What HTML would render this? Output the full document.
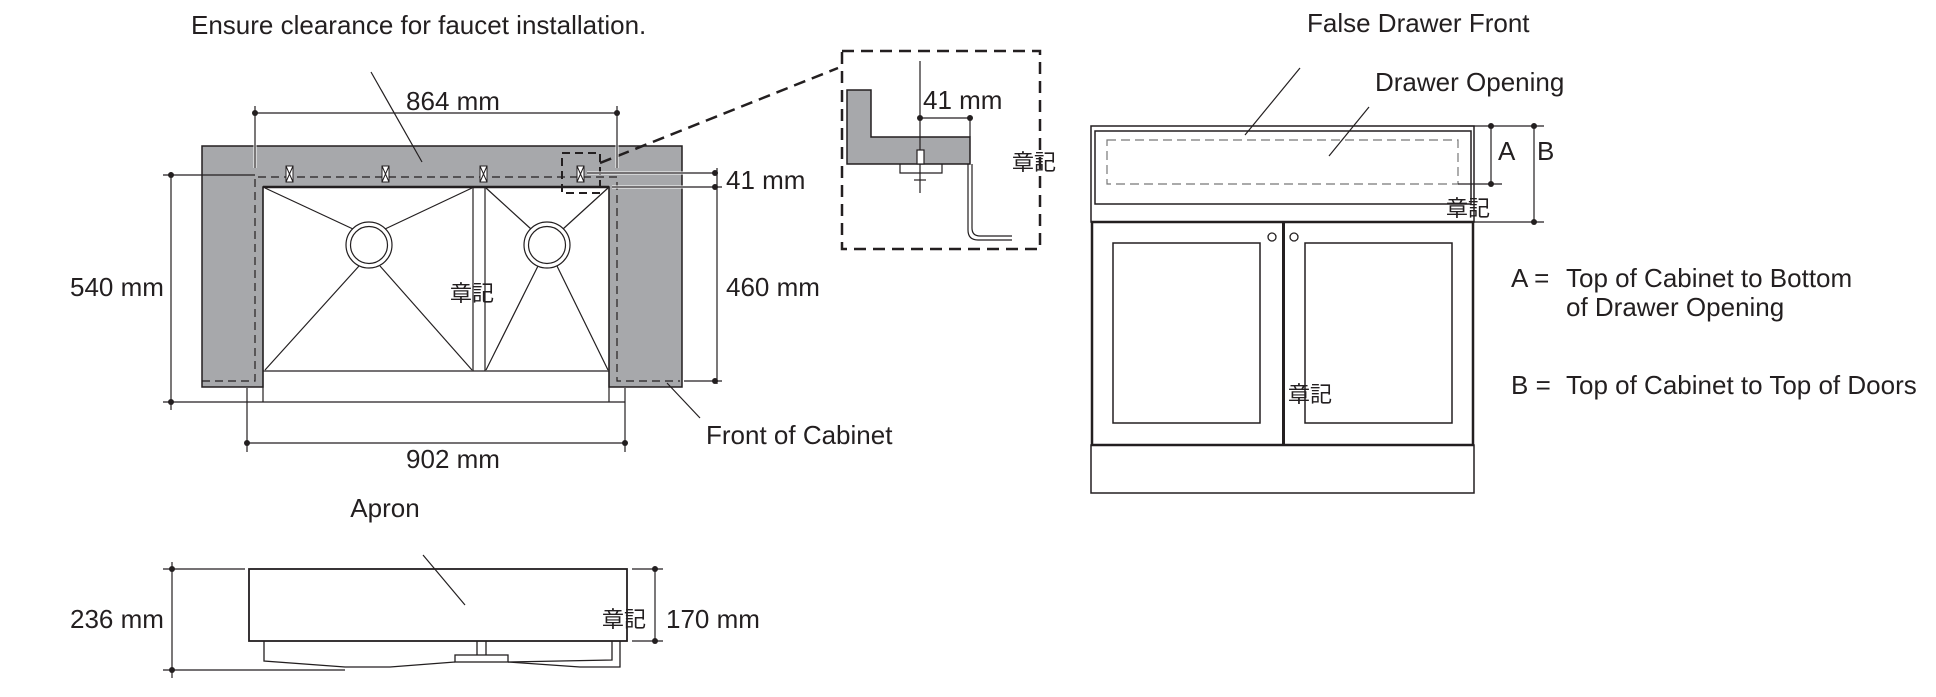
<!DOCTYPE html>
<html><head><meta charset="utf-8"><style>
html,body{margin:0;padding:0;background:#fff;}
svg{display:block;}
text{font-family:"Liberation Sans","Noto Sans CJK JP",sans-serif;font-size:26px;fill:#231f20;}
.k{font-size:22px;}
</style></head><body>
<svg width="1936" height="697" viewBox="0 0 1936 697" xmlns="http://www.w3.org/2000/svg">
<g stroke="#231f20" fill="none" stroke-width="1.2">
<path d="M202 146 H682 V387 H609 V187 H263 V387 H202 Z" fill="#a7a8ab" stroke="#231f20" stroke-width="1.5"/>
<line x1="263" y1="187" x2="609" y2="187" stroke-width="2.5"/>
<line x1="263" y1="371" x2="609" y2="371"/>
<line x1="263" y1="187" x2="263" y2="402"/>
<line x1="609" y1="187" x2="609" y2="402"/>
<line x1="473" y1="187" x2="473" y2="371"/><line x1="485" y1="187" x2="485" y2="371"/>
<circle cx="369" cy="245" r="23"/><circle cx="369" cy="245" r="18.5"/>
<circle cx="547" cy="245" r="23"/><circle cx="547" cy="245" r="18.5"/>
<line x1="265" y1="188" x2="353" y2="229"/><line x1="472" y1="188" x2="385" y2="229"/>
<line x1="265" y1="370" x2="359" y2="266"/><line x1="472" y1="370" x2="380" y2="266"/>
<line x1="486" y1="188" x2="531" y2="229"/><line x1="608" y1="188" x2="563" y2="229"/>
<line x1="486" y1="370" x2="538" y2="266"/><line x1="608" y1="370" x2="557" y2="266"/>
<path d="M202 381 H255 V177 H617 V381 H680" stroke-dasharray="8 5"/>
<g stroke-width="1"><rect x="286" y="166" width="7" height="16" fill="#fff"/><path d="M286 166 L293 182 M293 166 L286 182"/>
<rect x="382" y="166" width="7" height="16" fill="#fff"/><path d="M382 166 L389 182 M389 166 L382 182"/>
<rect x="480" y="166" width="7" height="16" fill="#fff"/><path d="M480 166 L487 182 M487 166 L480 182"/>
<rect x="577" y="166" width="7" height="16" fill="#fff"/><path d="M577 166 L584 182 M584 166 L577 182"/></g>
<rect x="562" y="153" width="38" height="40" stroke-dasharray="8 5" stroke-width="2"/>
<line x1="600" y1="163" x2="838" y2="68" stroke-dasharray="12 7" stroke-width="2.5"/>
<line x1="255" y1="113" x2="617" y2="113"/>
<line x1="255" y1="106" x2="255" y2="168" stroke="#fff" stroke-width="3"/><line x1="255" y1="106" x2="255" y2="168"/>
<line x1="617" y1="106" x2="617" y2="168" stroke="#fff" stroke-width="3"/><line x1="617" y1="106" x2="617" y2="168"/>
<line x1="371" y1="72" x2="422" y2="162"/>
<line x1="587" y1="173" x2="717" y2="173" stroke="#fff" stroke-width="3"/><line x1="587" y1="173" x2="717" y2="173"/>
<line x1="612" y1="187" x2="722" y2="187" stroke="#fff" stroke-width="3"/><line x1="612" y1="187" x2="722" y2="187"/>
<line x1="717" y1="168" x2="717" y2="384"/>
<line x1="684" y1="381" x2="722" y2="381"/>
<line x1="171" y1="172" x2="171" y2="410"/>
<line x1="163" y1="175" x2="255" y2="175"/>
<line x1="163" y1="402" x2="625" y2="402"/>
<line x1="247" y1="388" x2="247" y2="452"/><line x1="625" y1="388" x2="625" y2="452"/>
<line x1="247" y1="443" x2="625" y2="443"/>
<line x1="667" y1="383" x2="700" y2="418"/>
</g>
<g fill="#231f20">
<circle cx="255" cy="113" r="3"/><circle cx="617" cy="113" r="3"/>
<circle cx="715" cy="173" r="3"/><circle cx="715" cy="187" r="3"/><circle cx="715" cy="381" r="3"/>
<circle cx="171" cy="175" r="3"/><circle cx="171" cy="402" r="3"/>
<circle cx="247" cy="443" r="3"/><circle cx="625" cy="443" r="3"/>
</g>
<text x="191" y="34">Ensure clearance for faucet installation.</text>
<text x="453" y="110" text-anchor="middle">864 mm</text>
<text x="726" y="189">41 mm</text>
<text x="726" y="296">460 mm</text>
<text x="70" y="296">540 mm</text>
<text x="453" y="468" text-anchor="middle">902 mm</text>
<text x="706" y="444">Front of Cabinet</text>
<text x="450" y="301" class="k">章記</text>

<rect x="842" y="51" width="198" height="198" fill="none" stroke="#231f20" stroke-width="2.5" stroke-dasharray="12 7"/>
<path d="M847 90 H871 V137 H970 V164 H847 Z" fill="#a7a8ab" stroke="#231f20" stroke-width="1.5"/>
<g stroke="#231f20" fill="none" stroke-width="1.2">
<line x1="920" y1="61" x2="920" y2="193"/>
<line x1="920" y1="118" x2="970" y2="118"/>
<line x1="970" y1="118" x2="970" y2="137"/>
<path d="M900 164 V173 H942 V164"/>
<rect x="917" y="150" width="7" height="14" fill="#fff"/>
<path d="M914 180 H926"/>
<path d="M968 164 V230 Q968 240 978 240 H1012"/>
<path d="M972 164 V228 Q972 236 980 236 H1012"/>
</g>
<g fill="#231f20"><circle cx="920" cy="118" r="3"/><circle cx="970" cy="118" r="3"/></g>
<text x="923" y="109">41 mm</text>
<text x="1012" y="170" class="k">章記</text>

<g stroke="#231f20" fill="none">
<rect x="1091" y="126" width="383" height="96" stroke-width="1.5"/>
<rect x="1095" y="131" width="376" height="73" stroke-width="1.5"/>
<rect x="1107" y="140" width="351" height="44" stroke="#777" stroke-width="1.2" stroke-dasharray="9 5"/>
<rect x="1092" y="222" width="381" height="223" stroke-width="2.5"/>
<line x1="1283.5" y1="222" x2="1283.5" y2="445" stroke-width="3"/>
<rect x="1113" y="243" width="147" height="180" stroke-width="1.5"/>
<rect x="1305" y="243" width="147" height="180" stroke-width="1.5"/>
<circle cx="1272" cy="237" r="4" stroke-width="1.3"/><circle cx="1294" cy="237" r="4" stroke-width="1.3"/>
<rect x="1091" y="445" width="383" height="48" stroke-width="1.5"/>
<g stroke-width="1.2">
<line x1="1460" y1="126" x2="1544" y2="126"/>
<line x1="1458" y1="184" x2="1502" y2="184"/>
<line x1="1474" y1="222" x2="1544" y2="222"/>
<line x1="1491" y1="126" x2="1491" y2="184"/>
<line x1="1534" y1="126" x2="1534" y2="222"/>
<line x1="1300" y1="68" x2="1245" y2="135"/>
<line x1="1369" y1="107" x2="1329" y2="156"/>
</g></g>
<g fill="#231f20"><circle cx="1491" cy="126" r="3"/><circle cx="1491" cy="184" r="3"/><circle cx="1534" cy="126" r="3"/><circle cx="1534" cy="222" r="3"/></g>
<text x="1307" y="32">False Drawer Front</text>
<text x="1375" y="91">Drawer Opening</text>
<text x="1498" y="160">A</text>
<text x="1537" y="160">B</text>
<text x="1446" y="216" class="k">章記</text>
<text x="1288" y="402" class="k">章記</text>
<text x="1511" y="287">A =</text>
<text x="1566" y="287">Top of Cabinet to Bottom</text>
<text x="1566" y="316">of Drawer Opening</text>
<text x="1511" y="394">B =</text>
<text x="1566" y="394">Top of Cabinet to Top of Doors</text>

<g stroke="#231f20" fill="none" stroke-width="1.3">
<rect x="249" y="569" width="378" height="72" stroke-width="1.8"/>
<path d="M264 641 V661 L345 667 H390 L455 662 M508 662 L580 667 H620 V641" />
<path d="M612 641 V660 L508 662"/>
<rect x="455" y="655" width="53" height="7"/>
<line x1="477" y1="641" x2="477" y2="655"/><line x1="486" y1="641" x2="486" y2="655"/>
<g stroke-width="1.2">
<line x1="172" y1="562" x2="172" y2="678"/>
<line x1="163" y1="569" x2="245" y2="569"/>
<line x1="163" y1="670" x2="345" y2="670"/>
<line x1="655" y1="569" x2="655" y2="641"/>
<line x1="632" y1="569" x2="663" y2="569"/>
<line x1="632" y1="641" x2="663" y2="641"/>
<line x1="423" y1="555" x2="465" y2="605"/>
</g></g>
<g fill="#231f20"><circle cx="172" cy="569" r="3"/><circle cx="172" cy="670" r="3"/><circle cx="655" cy="569" r="3"/><circle cx="655" cy="641" r="3"/></g>
<text x="385" y="517" text-anchor="middle">Apron</text>
<text x="70" y="628">236 mm</text>
<text x="666" y="628">170 mm</text>
<text x="602" y="627" class="k">章記</text>
</svg>
</body></html>
